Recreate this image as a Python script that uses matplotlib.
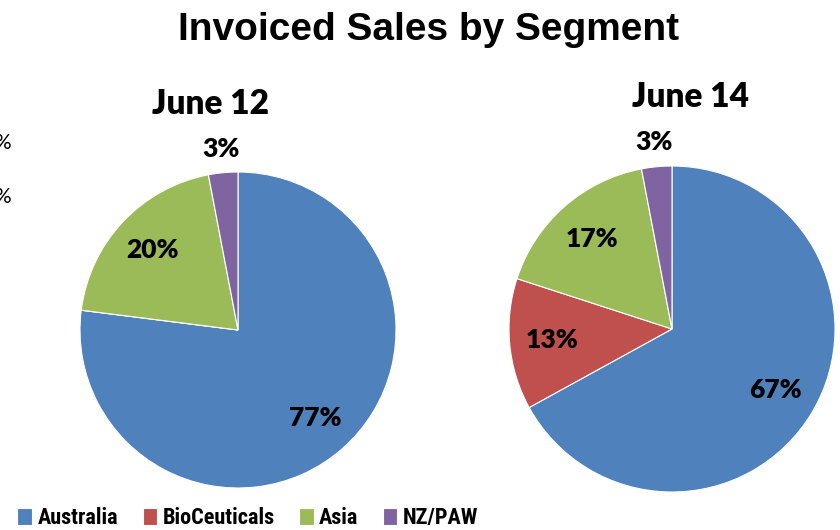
import matplotlib
matplotlib.use("Agg")
import matplotlib.pyplot as plt
import numpy as np

# Data
segments = ['Australia', 'BioCeuticals', 'Asia', 'NZ/PAW']
colors = ['#4F81BD', '#C0504D', '#9BBB59', '#8064A2']
june12 = [77, 0, 20, 3]
june14 = [67, 13, 17, 3]
pie_titles = ['June 12', 'June 14']

W, H = 840, 530
fig = plt.figure(figsize=(W / 100, H / 100), dpi=100)

label_font = ['Lato', 'DejaVu Sans']
legend_font = ['Roboto Condensed', 'Roboto', 'DejaVu Sans']


def px_axes(cx, cy, r):
    # axes of size 2r x 2r centred on pixel (cx, cy), y measured from top
    return fig.add_axes([(cx - r) / W, 1 - (cy + r) / H, 2 * r / W, 2 * r / H])


def draw_pie(ax, values):
    vals = np.array(values, dtype=float)
    wedges, _ = ax.pie(vals, colors=colors, startangle=90, counterclock=False,
                       radius=1.0, wedgeprops=dict(edgecolor='white', linewidth=0.8))
    ax.set_xlim(-1, 1)
    ax.set_ylim(-1, 1)
    ax.set_aspect('equal')
    ax.axis('off')
    total = vals.sum()
    for w, v in zip(wedges, vals):
        if v <= 0:
            continue
        mid = np.deg2rad((w.theta1 + w.theta2) / 2)
        dist = 1.15 if v / total < 0.05 else 0.74
        ax.text(dist * np.cos(mid), dist * np.sin(mid), f'{v / total * 100:.0f}%',
                ha='center', va='center', fontsize=19, fontweight='heavy',
                family=label_font, clip_on=False)
    return wedges


ax1 = px_axes(238, 330, 158)
wedges = draw_pie(ax1, june12)
ax2 = px_axes(672, 329, 163)
draw_pie(ax2, june14)

# titles
fig.text(429 / W, 1 - 30 / H, 'Invoiced Sales by Segment', ha='center', va='center',
         fontsize=28, fontweight='bold', family=['Liberation Sans', 'DejaVu Sans'])
fig.text(210 / W, 1 - 104 / H, pie_titles[0], ha='center', va='center',
         fontsize=24, fontweight='heavy', family=label_font)
fig.text(690 / W, 1 - 97 / H, pie_titles[1], ha='center', va='center',
         fontsize=24, fontweight='heavy', family=label_font)

# clipped leftovers at the left edge
for y in (143, 197):
    fig.text(11 / W, 1 - y / H, '%', ha='right', va='center', fontsize=15,
             family=label_font)

fig.legend(wedges, segments, loc='lower left', bbox_to_anchor=(-0.003, -0.036),
           ncol=4, frameon=False, handlelength=0.65, handleheight=0.85,
           handletextpad=0.25, columnspacing=1.1,
           prop=dict(family=legend_font, weight='bold', size=16))

fig.savefig('out.png', dpi=100, facecolor='white')
